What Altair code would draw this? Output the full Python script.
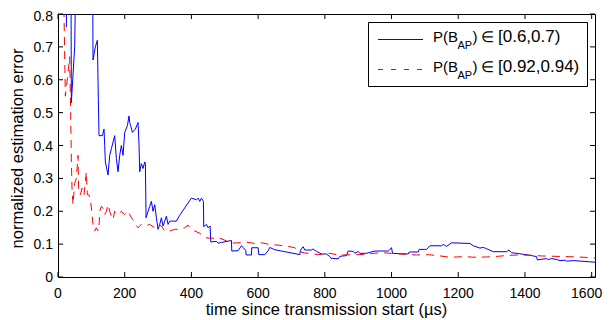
import altair as alt
import pandas as pd

W, H = 537, 263
FONT = "Liberation Sans"

# ---- data ----
blue_t = [25, 27, 39, 40, 50, 53, 104, 105, 112, 118, 121, 123, 133, 138, 140, 142, 150, 155, 160, 170,
          175, 180, 185, 190, 195, 200, 208, 213, 215, 218, 223, 232, 240, 243, 245, 250, 255, 260, 262, 264,
          270, 275, 280, 285, 290, 295, 300, 305, 310, 315, 320, 325, 330, 335, 340, 355, 365, 400, 415, 420, 425,
          430, 436, 437, 445, 450, 456, 458, 475, 480, 490, 520, 521, 540, 550, 555, 563, 564, 580, 581, 600,
          602, 620, 630, 635, 645, 650, 725, 727, 735, 740, 760, 765, 775, 790, 805, 815, 818, 840, 845, 865,
          870, 885, 890, 900, 905, 925, 935, 950, 990, 1000, 1003, 1050, 1053, 1080, 1083, 1105, 1115, 1150, 1155, 1165,
          1180, 1235, 1245, 1265, 1275, 1285, 1305, 1345, 1352, 1360, 1410, 1435, 1437, 1465, 1470, 1480, 1495, 1505,
          1520, 1525, 1545, 1610]
blue_err = [0.76, 0.90, 0.90, 0.53, 0.70, 0.90, 0.90, 0.66, 0.70, 0.72, 0.54, 0.43, 0.43, 0.45, 0.40, 0.35, 0.31, 0.37, 0.39, 0.43,
            0.36, 0.32, 0.37, 0.40, 0.37, 0.44, 0.46, 0.49, 0.47, 0.46, 0.44, 0.45, 0.47, 0.40, 0.32, 0.345, 0.33, 0.35, 0.345, 0.18,
            0.20, 0.215, 0.23, 0.20, 0.22, 0.18, 0.145, 0.16, 0.18, 0.155, 0.17, 0.185, 0.16, 0.17, 0.17, 0.17, 0.188, 0.24, 0.235, 0.24, 0.23,
            0.24, 0.23, 0.153, 0.16, 0.15, 0.155, 0.107, 0.108, 0.103, 0.105, 0.111, 0.079, 0.08, 0.095, 0.09, 0.08, 0.067, 0.067, 0.089, 0.089,
            0.068, 0.068, 0.08, 0.09, 0.085, 0.083, 0.068, 0.082, 0.092, 0.082, 0.082, 0.085, 0.078, 0.07, 0.07, 0.062, 0.057, 0.055, 0.063, 0.065,
            0.079, 0.078, 0.072, 0.078, 0.072, 0.072, 0.075, 0.079, 0.079, 0.089, 0.072, 0.07, 0.076, 0.076, 0.084, 0.084, 0.095, 0.095, 0.099, 0.093,
            0.104, 0.102, 0.095, 0.088, 0.090, 0.086, 0.077, 0.077, 0.082, 0.074, 0.067, 0.062, 0.052, 0.056, 0.053, 0.056, 0.053, 0.05,
            0.051, 0.048, 0.05, 0.045]

red_t = [10, 18, 22, 30, 35, 38, 40, 42, 45, 50, 55, 60, 62, 67, 72, 78, 82, 85, 88, 92,
         97, 100, 105, 110, 115, 120, 123, 125, 130, 135, 140, 145, 150, 155, 160, 165, 170, 180, 190, 200,
         210, 220, 230, 235, 240, 250, 260, 275, 290, 300, 310, 320, 335, 350, 365, 380, 390, 395, 410, 425,
         440, 455, 470, 480, 500, 520, 540, 565, 590, 610, 640, 660, 690, 710, 725, 740, 755, 780, 800, 815,
         835, 855, 880, 915, 945, 970, 1000, 1040, 1075, 1110, 1140, 1175, 1220, 1250, 1285, 1320, 1350, 1385, 1420, 1450,
         1485, 1520, 1560, 1610]
red_err = [0.90, 0.80, 0.55, 0.62, 0.67, 0.50, 0.36, 0.27, 0.22, 0.285, 0.30, 0.37, 0.26, 0.25, 0.27, 0.25, 0.29, 0.32, 0.25, 0.25,
           0.24, 0.21, 0.16, 0.14, 0.15, 0.14, 0.15, 0.20, 0.215, 0.21, 0.19, 0.20, 0.22, 0.20, 0.185, 0.175, 0.20, 0.19, 0.20, 0.19,
           0.20, 0.18, 0.168, 0.155, 0.15, 0.16, 0.155, 0.16, 0.15, 0.16, 0.155, 0.14, 0.14, 0.145, 0.145, 0.15, 0.158, 0.15, 0.14, 0.133,
           0.12, 0.118, 0.118, 0.12, 0.112, 0.103, 0.104, 0.106, 0.102, 0.104, 0.098, 0.097, 0.093, 0.089, 0.077, 0.073, 0.072, 0.068, 0.07, 0.072,
           0.068, 0.067, 0.068, 0.068, 0.072, 0.074, 0.072, 0.069, 0.067, 0.068, 0.065, 0.06, 0.062, 0.06, 0.061, 0.063, 0.066, 0.067, 0.066, 0.064,
           0.063, 0.062, 0.061, 0.058]

x_ticks = [0, 200, 400, 600, 800, 1000, 1200, 1400, 1600]
y_ticks = [0, 0.1, 0.2, 0.3, 0.4, 0.5, 0.6, 0.7, 0.8]
legend_ranges = ["[0.6,0.7)", "[0.92,0.94)"]

x_title = "time since transmission start (µs)"
y_title = "normalized estimation error"

# ---- chart ----
xs = alt.Scale(domain=[0, 1610], nice=False, zero=False)
ys = alt.Scale(domain=[0, 0.8], nice=False)

df_blue = pd.DataFrame({"t": blue_t, "err": blue_err})
df_red = pd.DataFrame({"t": red_t, "err": red_err})
df_xt = pd.DataFrame({"v": x_ticks, "lab": [f"{v:g}" for v in x_ticks]})
df_yt = pd.DataFrame({"v": y_ticks, "lab": [f"{v:g}" for v in y_ticks]})
one = pd.DataFrame({"a": [0]})

X = lambda f: alt.X(f, scale=xs, axis=None)
Y = lambda f: alt.Y(f, scale=ys, axis=None)

blue = alt.Chart(df_blue).mark_line(color="#0000ff", strokeWidth=1, clip=True).encode(
    x=X("t:Q"), y=Y("err:Q"))
red = alt.Chart(df_red).mark_line(color="#ff0000", strokeWidth=1, strokeDash=[8, 6], clip=True).encode(
    x=X("t:Q"), y=Y("err:Q"))

# inward ticks on all four sides (box on)
tick_b = alt.Chart(df_xt).mark_rule(color="black", strokeWidth=1).encode(
    x=X("v:Q"), y=alt.value(H), y2=alt.value(H - 5))
tick_t = alt.Chart(df_xt).mark_rule(color="black", strokeWidth=1).encode(
    x=X("v:Q"), y=alt.value(0), y2=alt.value(5))
tick_l = alt.Chart(df_yt).mark_rule(color="black", strokeWidth=1).encode(
    y=Y("v:Q"), x=alt.value(0), x2=alt.value(5))
tick_r = alt.Chart(df_yt).mark_rule(color="black", strokeWidth=1).encode(
    y=Y("v:Q"), x=alt.value(W), x2=alt.value(W - 5))

# tick labels and axis titles
lab = dict(font=FONT, fontSize=14, color="black")
ttl = dict(font=FONT, fontSize=16.5, color="black")
xlab = alt.Chart(df_xt.iloc[:-1]).mark_text(align="center", baseline="alphabetic", **lab).encode(
    x=X("v:Q"), y=alt.value(H + 21), text="lab:N")
xlab_last = alt.Chart(df_xt.iloc[-1:]).mark_text(align="center", baseline="alphabetic", dx=-5, **lab).encode(
    x=X("v:Q"), y=alt.value(H + 21), text="lab:N")
ylab = alt.Chart(df_yt.iloc[:-1]).mark_text(align="right", baseline="middle", dy=1, **lab).encode(
    y=Y("v:Q"), x=alt.value(-5), text="lab:N")
ylab_top = alt.Chart(df_yt.iloc[-1:]).mark_text(align="right", baseline="middle", dy=2.5, **lab).encode(
    y=Y("v:Q"), x=alt.value(-5), text="lab:N")
xtitle = alt.Chart(one).mark_text(align="center", baseline="alphabetic", **ttl).encode(
    x=alt.value(W / 2), y=alt.value(H + 38), text=alt.value(x_title))
ytitle = alt.Chart(one).mark_text(align="center", baseline="alphabetic", angle=270, **ttl).encode(
    x=alt.value(-35), y=alt.value(H / 2 + 3), text=alt.value(y_title))

# legend box
leg_box = alt.Chart(one).mark_rect(fill="white", stroke="black", strokeWidth=1).encode(
    x=alt.value(310.5), x2=alt.value(529.5), y=alt.value(8.5), y2=alt.value(72.5))
leg_blue = alt.Chart(one).mark_rule(color="#0000ff", strokeWidth=1).encode(
    x=alt.value(320), x2=alt.value(365), y=alt.value(25.5))
leg_red = alt.Chart(one).mark_rule(color="#ff0000", strokeWidth=1, strokeDash=[5, 8]).encode(
    x=alt.value(320), x2=alt.value(365), y=alt.value(55.5))


def leg_text(row_y, rng):
    base = dict(align="left", baseline="alphabetic", font=FONT, color="black")
    parts = [
        (375, row_y, 15, "P(B"),
        (399.5, row_y + 7, 11, "AP"),
        (414.5, row_y, 15, ")"),
        (423, row_y, 15, "\u2208"),
        (440, row_y, 17, rng),
    ]
    return [
        alt.Chart(one).mark_text(fontSize=fs, **base).encode(
            x=alt.value(px), y=alt.value(py), text=alt.value(s))
        for px, py, fs, s in parts
    ]


layers = [blue, red, tick_b, tick_t, tick_l, tick_r, xlab, xlab_last, ylab, ylab_top, xtitle, ytitle,
          leg_box, leg_blue, leg_red]
layers += leg_text(28, legend_ranges[0])
layers += leg_text(58, legend_ranges[1])

chart = alt.layer(*layers).properties(
    width=W, height=H,
    autosize=alt.AutoSizeParams(type="none"),
    padding={"left": 50, "top": 6, "right": 8, "bottom": 42},
).configure_view(
    stroke="black", strokeWidth=1
)

chart.save("out.html", embed_options={"renderer": "svg", "actions": False})
